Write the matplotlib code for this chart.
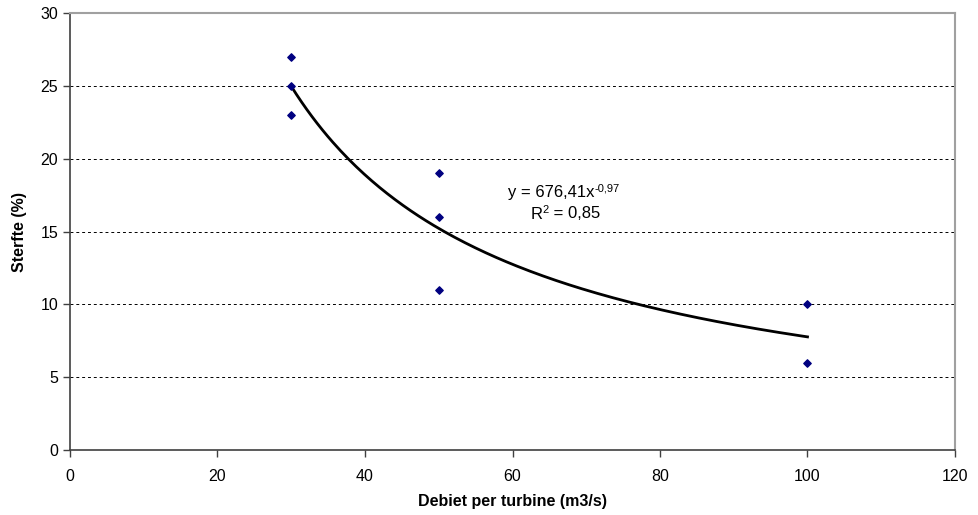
import numpy as np
import matplotlib
matplotlib.use("Agg")
import matplotlib.pyplot as plt

# Meetpunten: debiet per turbine (m3/s) en sterfte (%)
debiet = [30, 30, 30, 50, 50, 50, 100, 100]
sterfte = [27, 25, 23, 19, 16, 11, 10, 6]

# Trendlijn (machtsfunctie) y = a * x^b
coef_a = 676.41
coef_b = -0.97
x_min, x_max = 30, 100

plt.rcParams['font.family'] = ['Liberation Sans', 'DejaVu Sans']

fig = plt.figure(figsize=(9.79, 5.15), dpi=100)
ax = fig.add_axes([70 / 979, 1 - 450 / 515, 885 / 979, 437 / 515])

# rasterlijnen (gestippeld)
for yv in [5, 10, 15, 20, 25]:
    ax.axhline(yv, color='black', linestyle=(0, (3, 3)), linewidth=0.7, zorder=1)

# trendlijn
xs = np.linspace(x_min, x_max, 200)
ax.plot(xs, coef_a * xs ** coef_b, color='black', linewidth=2, zorder=2)

# punten
ax.scatter(debiet, sterfte, marker='D', s=14, color='#000080', zorder=3)

ax.set_xlim(0, 120)
ax.set_ylim(0, 30)
ax.set_xticks(range(0, 121, 20))
ax.set_yticks(range(0, 31, 5))
ax.tick_params(labelsize=11.5, length=5, width=1, color='#404040')
ax.tick_params(axis='x', pad=9)

for s in ['top', 'right']:
    ax.spines[s].set_color('#a0a0a0')
    ax.spines[s].set_linewidth(1.5)
for s in ['left', 'bottom']:
    ax.spines[s].set_color('#404040')
    ax.spines[s].set_linewidth(1.2)

ax.set_xlabel('Debiet per turbine (m3/s)', fontsize=11.5, fontweight='bold', labelpad=7)
ax.set_ylabel('Sterfte (%)', fontsize=11.5, fontweight='bold', labelpad=10)

# vergelijking met superscript als aparte tekst
t1 = ax.text(65.3, 17.7, 'y = 676,41x', fontsize=12, ha='center', va='center')
ax.annotate('-0,97', xy=(1, 0.75), xycoords=t1, fontsize=8, ha='left', va='center')
t2 = ax.text(64.1, 16.2, 'R', fontsize=12, ha='right', va='center')
t3 = ax.annotate('2', xy=(1, 0.8), xycoords=t2, fontsize=8, ha='left', va='center')
ax.annotate(' = 0,85', xy=(1, 0.5), xycoords=t3, xytext=(0, -3), textcoords='offset points',
            fontsize=12, ha='left', va='center')

fig.savefig('out.png', dpi=100)
